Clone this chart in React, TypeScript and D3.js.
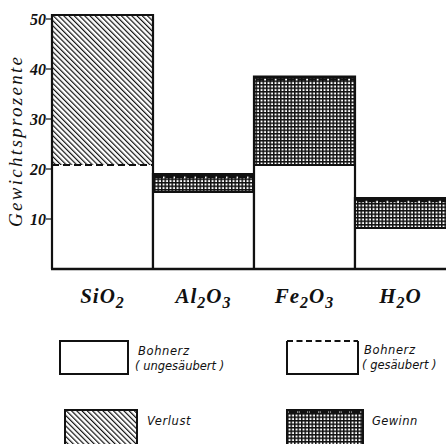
import React from "react";
import * as d3 from "d3";

// Bohnerz: Gewichtsprozente vor und nach dem Säubern
const categories = ["SiO2", "Al2O3", "Fe2O3", "H2O"];
const labelParts: [string, string][][] = [
	[["Si", ""], ["O", "2"]],
	[["Al", "2"], ["O", "3"]],
	[["Fe", "2"], ["O", "3"]],
	[["H", "2"], ["O", ""]],
];
const ungesaeubert = [50.8, 15.4, 20.8, 8.2];
const gesaeubert = [20.8, 19.0, 38.5, 14.2];
const yTicks = [10, 20, 30, 40, 50];

const W = 446;
const H = 444;
const serif = "'Liberation Serif', 'DejaVu Serif', serif";
const sans = "'DejaVu Sans', 'Liberation Sans', sans-serif";

const x = d3.scaleBand<string>().domain(categories).range([52, 456]).padding(0);
const y = d3.scaleLinear().domain([0, 50]).range([269, 19]);

// small notched band on top of the "Gewinn" areas
const Crenel: React.FC<{ x0: number; x1: number; top: number }> = ({ x0, x1, top }) => (
	<g>
		<line x1={x0} x2={x1} y1={top + 1} y2={top + 1} stroke="#111" strokeWidth={2} />
		<line
			x1={x0 + 2}
			x2={x1}
			y1={top + 3.2}
			y2={top + 3.2}
			stroke="#111"
			strokeWidth={2.2}
			strokeDasharray="8 2.5"
		/>
	</g>
);

const legendText = {
	fontFamily: sans,
	fontStyle: "italic",
	fontSize: 11.5,
	fill: "#111",
} as const;

const App: React.FC = () => {
	const bw = x.bandwidth();
	return (
		<svg
			width={W}
			height={H}
			style={{ position: "absolute", left: 0, top: 0, background: "#fff" }}
		>
			<defs>
				<pattern
					id="hatch"
					patternUnits="userSpaceOnUse"
					width={3.7}
					height={3.7}
					patternTransform="rotate(-45)"
				>
					<rect width={3.7} height={3.7} fill="#fff" />
					<line x1={0.6} x2={0.6} y1={0} y2={3.7} stroke="#111" strokeWidth={1.2} />
				</pattern>
				<pattern id="grid" patternUnits="userSpaceOnUse" width={3.5} height={3.5}>
					<rect width={3.5} height={3.5} fill="#fff" />
					<line x1={0.75} x2={0.75} y1={0} y2={3.5} stroke="#111" strokeWidth={1.5} />
					<line x1={0} x2={3.5} y1={0.75} y2={0.75} stroke="#111" strokeWidth={1.5} />
				</pattern>
			</defs>

			{/* bars */}
			{categories.map((c, i) => {
				const x0 = x(c)!;
				const u = ungesaeubert[i];
				const g = gesaeubert[i];
				const lo = Math.min(u, g);
				const hi = Math.max(u, g);
				const loss = g < u;
				return (
					<g key={c}>
						<rect
							x={x0}
							y={y(hi)}
							width={bw}
							height={y(lo) - y(hi)}
							fill={loss ? "url(#hatch)" : "url(#grid)"}
						/>
						{!loss && <Crenel x0={x0} x1={x0 + bw} top={y(hi)} />}
						<rect x={x0} y={y(lo)} width={bw} height={y(0) - y(lo)} fill="#fff" />
						<line
							x1={x0}
							x2={x0 + bw}
							y1={y(lo)}
							y2={y(lo)}
							stroke="#111"
							strokeWidth={loss ? 1.8 : 2}
							strokeDasharray={loss ? "7 4" : undefined}
						/>
						<path
							d={`M${x0},${y(0)}V${y(hi)}H${x0 + bw}V${y(0)}`}
							fill="none"
							stroke="#111"
							strokeWidth={2.2}
						/>
					</g>
				);
			})}
			<line x1={51} x2={W} y1={y(0)} y2={y(0)} stroke="#111" strokeWidth={2.4} />

			{/* y axis ticks */}
			{yTicks.map((t) => (
				<g key={t}>
					<line x1={46} x2={52} y1={y(t)} y2={y(t)} stroke="#111" strokeWidth={1.2} />
					<text
						x={46}
						y={y(t)}
						dy="0.36em"
						textAnchor="end"
						fontFamily={serif}
						fontStyle="italic"
						fontWeight="bold"
						fontSize={16}
						fill="#111"
					>
						{t}
					</text>
				</g>
			))}
			<text
				transform={`translate(22,${142}) rotate(-90)`}
				textAnchor="middle"
				fontFamily={serif}
				fontStyle="italic"
				fontSize={19}
				fill="#111"
				textLength={170}
				lengthAdjust="spacing"
			>
				Gewichtsprozente
			</text>

			{/* category labels */}
			{categories.map((c, i) => (
				<text
					key={c}
					x={x(c)! + bw / 2 - (i === 3 ? 5 : 0)}
					y={303}
					textAnchor="middle"
					fontFamily={serif}
					fontStyle="italic"
					fontWeight="bold"
					fontSize={21}
					letterSpacing={1}
					fill="#111"
				>
					{labelParts[i].map(([base, sub], k) => (
						<React.Fragment key={k}>
							<tspan dy={k === 0 ? 0 : labelParts[i][k - 1][1] ? -5 : 0}>{base}</tspan>
							{sub && (
								<tspan dy={5} fontSize={16}>
									{sub}
								</tspan>
							)}
						</React.Fragment>
					))}
				</text>
			))}

			{/* legend */}
			<rect x={60} y={341} width={68} height={33} fill="#fff" stroke="#111" strokeWidth={2} />
			<text x={138} y={355} {...legendText} letterSpacing={0.6}>
				Bohnerz
			</text>
			<text x={135} y={370} {...legendText}>
				( ungesäubert )
			</text>

			<path d="M287,341V374H358V341" fill="none" stroke="#111" strokeWidth={2} />
			<line x1={287} x2={358} y1={341} y2={341} stroke="#111" strokeWidth={2} strokeDasharray="6 3.5" />
			<text x={364} y={354} {...legendText} letterSpacing={0.6}>
				Bohnerz
			</text>
			<text x={362} y={369} {...legendText}>
				( gesäubert )
			</text>

			<rect x={65} y={410} width={72} height={40} fill="url(#hatch)" stroke="#111" strokeWidth={2} />
			<text x={147} y={425} {...legendText} letterSpacing={0.6}>
				Verlust
			</text>

			<rect x={287} y={410} width={76} height={40} fill="url(#grid)" stroke="#111" strokeWidth={2} />
			<Crenel x0={287} x1={363} top={409} />
			<text x={372} y={425} {...legendText} letterSpacing={0.4}>
				Gewinn
			</text>
		</svg>
	);
};

export default App;
